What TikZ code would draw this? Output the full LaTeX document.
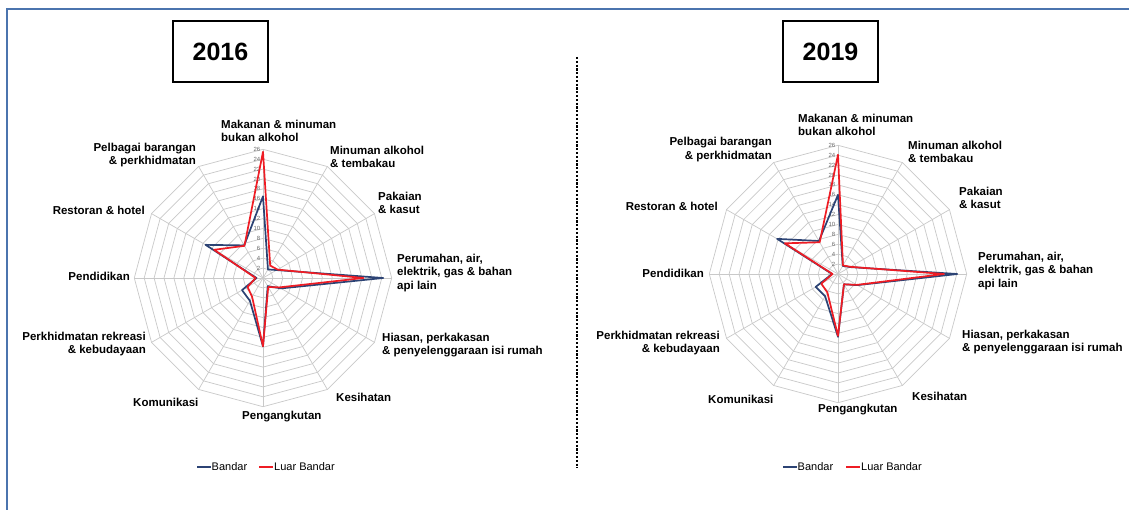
\documentclass[tikz,border=0pt]{standalone}
\usepackage{fontspec}
\setmainfont{Liberation Sans}
\definecolor{bandar}{HTML}{2C4374}
\definecolor{luar}{HTML}{EE1C24}
\definecolor{gridc}{HTML}{C9C9C9}
\definecolor{tickc}{HTML}{6A6A6A}
\definecolor{framec}{HTML}{4B74AE}
\newcommand\radunit{4.95}
\newcommand\myradar[3]{%
  \foreach \r in {2,4,...,26}
    \draw[gridline] (0,{-\r*\radunit}) \foreach \a in {30,60,...,330} { -- ({\r*\radunit*sin(\a)},{-\r*\radunit*cos(\a)}) } -- cycle;
  \foreach \a in {0,30,...,330}
    \draw[gridline] (0,0) -- ({26*\radunit*sin(\a)},{-26*\radunit*cos(\a)});
  \foreach \r in {2,4,...,26}
    \node[ticklbl] at (-2.5,{-\r*\radunit}) {\r};
  \foreach \v [count=\i from 0] in {#2}
    \coordinate (#1b\i) at ({\v*\radunit*sin(30*\i)},{-\v*\radunit*cos(30*\i)});
  \foreach \v [count=\i from 0] in {#3}
    \coordinate (#1r\i) at ({\v*\radunit*sin(30*\i)},{-\v*\radunit*cos(30*\i)});
  \draw[bandarline] (#1b0) \foreach \i in {1,...,11} { -- (#1b\i) } -- cycle;
  \draw[luarline] (#1r0) \foreach \i in {1,...,11} { -- (#1r\i) } -- cycle;
}
\begin{document}
\begin{tikzpicture}[x=1pt,y=-1pt,
  gridline/.style={draw=gridc, line width=0.7pt},
  bandarline/.style={draw=bandar, line width=1.7pt, line join=round},
  luarline/.style={draw=luar, line width=1.7pt, line join=round},
  axl/.style={font=\bfseries\fontsize{11.5}{13.5}\selectfont, inner sep=0pt, align=left, anchor=north west},
  axr/.style={font=\bfseries\fontsize{11.5}{13.5}\selectfont, inner sep=0pt, align=right, anchor=north east},
  ticklbl/.style={font=\fontsize{6}{6.5}\selectfont, text=tickc, inner sep=0pt, anchor=east},
  yearbox/.style={draw, line width=1.6pt, minimum width=95pt, minimum height=61pt, font=\bfseries\fontsize{25}{28}\selectfont, inner sep=0pt},
  legtext/.style={font=\fontsize{11}{12}\selectfont, inner sep=0pt, anchor=west},
  frameline/.style={draw=framec, line width=1.2pt},
  sepline/.style={line width=2.4pt, dash pattern=on 2.2pt off 1.6pt},
]
\useasboundingbox (0,0) rectangle (1129,510);
\fill[white] (0,0) rectangle (1129,510);
% frame
\coordinate (fbl) at (7,510);
\coordinate (ftl) at (7,9);
\coordinate (ftr) at (1129,9);
\draw[frameline] (fbl) -- (ftl) -- (ftr);
% separator
\coordinate (septop) at (577,57);
\coordinate (sepbot) at (577,468);
\draw[sepline] (septop) -- (sepbot);
% titles
\node[yearbox] (y16) at (220.5,51.5) {2016};
\node[yearbox] (y19) at (830.5,51.5) {2019};

% ---------- 2016 chart ----------
\begin{scope}[shift={(263,278)}]
\myradar{a}{16.5,2.0,3.2,24.3,4.2,1.9,13.8,5.3,4.9,1.3,13.4,7.6}{25.5,2.9,3.4,20.3,3.8,2.1,13.8,4.4,3.6,1.5,11.4,7.5}
\end{scope}
\node[axl] (a0) at (221,119.7) {Makanan \& minuman\\bukan alkohol};
\node[axl] (a1) at (330,145.7) {Minuman alkohol\\\& tembakau};
\node[axl] (a2) at (378,191.7) {Pakaian\\\& kasut};
\node[axl] (a3) at (397,253.7) {Perumahan, air,\\elektrik, gas \& bahan\\api lain};
\node[axl] (a4) at (382,332.7) {Hiasan, perkakasan\\\& penyelenggaraan isi rumah};
\node[axl] (a5) at (336,392.7) {Kesihatan};
\node[axl] (a6) at (242,410.7) {Pengangkutan};
\node[axl] (a7) at (133,397.7) {Komunikasi};
\node[axr] (a8) at (146,331.7) {Perkhidmatan rekreasi\\\& kebudayaan};
\node[axr] (a9) at (130,271.7) {Pendidikan};
\node[axr] (a10) at (145,205.7) {Restoran \& hotel};
\node[axr] (a11) at (196,142.7) {Pelbagai barangan\\\& perkhidmatan};
% legend 2016
\coordinate (lb16a) at (197,467);
\coordinate (lb16b) at (211,467);
\draw[draw=bandar, line width=1.8pt] (lb16a) -- (lb16b);
\node[legtext] (lt16b) at (211.5,467) {Bandar};
\coordinate (lr16a) at (259,467);
\coordinate (lr16b) at (273,467);
\draw[draw=luar, line width=1.8pt] (lr16a) -- (lr16b);
\node[legtext] (lt16r) at (274,467) {Luar Bandar};

% ---------- 2019 chart ----------
\begin{scope}[shift={(838,274)}]
\myradar{c}{16.0,1.9,2.8,24.1,4.5,2.4,12.7,5.2,5.2,1.2,14.2,7.7}{24.1,2.0,2.9,21.4,4.4,2.4,12.5,4.3,3.9,1.1,12.4,7.4}
\end{scope}
\node[axl] (c0) at (798,113.7) {Makanan \& minuman\\bukan alkohol};
\node[axl] (c1) at (908,140.7) {Minuman alkohol\\\& tembakau};
\node[axl] (c2) at (959,186.7) {Pakaian\\\& kasut};
\node[axl] (c3) at (978,251.7) {Perumahan, air,\\elektrik, gas \& bahan\\api lain};
\node[axl] (c4) at (962,329.7) {Hiasan, perkakasan\\\& penyelenggaraan isi rumah};
\node[axl] (c5) at (912,391.7) {Kesihatan};
\node[axl] (c6) at (818,403.7) {Pengangkutan};
\node[axl] (c7) at (708,394.7) {Komunikasi};
\node[axr] (c8) at (720,330.7) {Perkhidmatan rekreasi\\\& kebudayaan};
\node[axr] (c9) at (704,268.7) {Pendidikan};
\node[axr] (c10) at (718,201.7) {Restoran \& hotel};
\node[axr] (c11) at (772,137.4) {Pelbagai barangan\\\& perkhidmatan};
% legend 2019
\coordinate (lb19a) at (783,467);
\coordinate (lb19b) at (797,467);
\draw[draw=bandar, line width=1.8pt] (lb19a) -- (lb19b);
\node[legtext] (lt19b) at (797.5,467) {Bandar};
\coordinate (lr19a) at (846,467);
\coordinate (lr19b) at (860,467);
\draw[draw=luar, line width=1.8pt] (lr19a) -- (lr19b);
\node[legtext] (lt19r) at (861,467) {Luar Bandar};
\end{tikzpicture}
\end{document}
